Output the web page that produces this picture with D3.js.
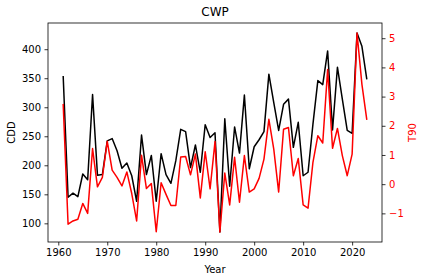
<!DOCTYPE html>
<html>
<head>
<meta charset="utf-8">
<script src="https://cdn.jsdelivr.net/npm/d3@7"></script>
<style>
  body { margin: 0; background: #fff; }
  text { font-family: "DejaVu Sans", sans-serif; }
</style>
</head>
<body>
<script>
// data
var years = d3.range(1961, 2024);
var cdd = [354, 145, 152, 146, 185, 175, 322, 183, 184, 242,
           246, 225, 195, 204, 182, 138, 252, 184, 217, 138,
           220, 184, 169, 208, 262, 258, 196, 235, 188, 270,
           248, 256, 85, 280, 164, 266, 221, 321, 194, 232,
           244, 258, 357, 308, 260, 305, 314, 231, 274, 182,
           188, 271, 346, 339, 397, 261, 369, 314, 260, 255,
           428, 405, 348];
var t90 = [2.75, -1.37, -1.26, -1.2, -0.66, -1.0, 1.22, -0.09, 0.23, 1.47,
           0.48, 0.23, -0.06, 0.42, -0.32, -1.26, 0.99, -0.15, 0.02, -1.63,
           0.05, -0.35, -0.73, -0.73, 0.93, 0.95, 0.32, 1.03, -0.47, 1.11,
           -0.16, 1.46, -1.64, 0.38, -0.71, 0.92, -0.62, 0.98, -0.27, -0.16,
           0.2, 0.86, 2.22, 1.2, -0.27, 1.88, 1.94, 0.29, 0.88, -0.71,
           -0.82, 0.75, 1.66, 1.41, 3.93, 1.23, 1.91, 0.98, 0.29, 1.03,
           5.18, 3.42, 2.2];
var xTicks = [1960, 1970, 1980, 1990, 2000, 2010, 2020];
var cddTicks = [100, 150, 200, 250, 300, 350, 400];
var t90Ticks = [-1, 0, 1, 2, 3, 4, 5];

var width = 424, height = 280;
// plot box edges (window.top is read-only, so no "top" here)
var boxL = 48, boxR = 382, boxT = 23, boxB = 242;

// matplotlib style 5% margins
function pad(ext) {
  var m = (ext[1] - ext[0]) * 0.05;
  return [ext[0] - m, ext[1] + m];
}

var svg = d3.select("body").append("svg")
    .attr("width", width)
    .attr("height", height);

var x = d3.scaleLinear().domain(pad(d3.extent(years))).range([boxL, boxR]);
var y1 = d3.scaleLinear().domain(pad(d3.extent(cdd))).range([boxB, boxT]);
var y2 = d3.scaleLinear().domain(pad(d3.extent(t90))).range([boxB, boxT]);

var line1 = d3.line()
    .x(function (d, i) { return x(years[i]); })
    .y(function (d) { return y1(d); });
var line2 = d3.line()
    .x(function (d, i) { return x(years[i]); })
    .y(function (d) { return y2(d); });

svg.append("path").datum(cdd)
    .attr("d", line1)
    .attr("fill", "none")
    .attr("stroke", "black")
    .attr("stroke-width", 1.5)
    .attr("stroke-linejoin", "round");

svg.append("path").datum(t90)
    .attr("d", line2)
    .attr("fill", "none")
    .attr("stroke", "red")
    .attr("stroke-width", 1.5)
    .attr("stroke-linejoin", "round");

// axes
var xAxis = svg.append("g")
    .attr("transform", "translate(0," + boxB + ")")
    .call(d3.axisBottom(x).tickValues(xTicks).tickFormat(d3.format("d"))
      .tickSize(3.5).tickPadding(3.5));
var yAxisL = svg.append("g")
    .attr("transform", "translate(" + boxL + ",0)")
    .call(d3.axisLeft(y1).tickValues(cddTicks).tickSize(3.5).tickPadding(3.5));
var yAxisR = svg.append("g")
    .attr("transform", "translate(" + boxR + ",0)")
    .call(d3.axisRight(y2).tickValues(t90Ticks).tickFormat(function (d) {
        return d < 0 ? "\u2212" + Math.abs(d) : d;
      }).tickSize(3.5).tickPadding(3.5));

[xAxis, yAxisL, yAxisR].forEach(function (g) {
  g.select(".domain").remove();
  g.selectAll("text").attr("font-size", 10).attr("font-family", "DejaVu Sans").attr("fill", "#000");
  g.selectAll("line").attr("stroke", "#000").attr("stroke-width", 0.8);
});
yAxisR.selectAll("text").attr("fill", "red");

// frame
svg.append("rect")
    .attr("x", boxL).attr("y", boxT)
    .attr("width", boxR - boxL).attr("height", boxB - boxT)
    .attr("fill", "none").attr("stroke", "#000").attr("stroke-width", 0.8);

// labels
svg.append("text").attr("x", (boxL + boxR) / 2).attr("y", 16)
    .attr("text-anchor", "middle").attr("font-size", 12).text("CWP");
svg.append("text").attr("x", (boxL + boxR) / 2).attr("y", 273)
    .attr("text-anchor", "middle").attr("font-size", 10).text("Year");
svg.append("text")
    .attr("transform", "translate(15," + (boxT + boxB) / 2 + ") rotate(-90)")
    .attr("text-anchor", "middle").attr("font-size", 10).text("CDD");
svg.append("text")
    .attr("transform", "translate(416," + (boxT + boxB) / 2 + ") rotate(-90)")
    .attr("text-anchor", "middle").attr("font-size", 10).attr("fill", "red").text("T90");
</script>
</body>
</html>
